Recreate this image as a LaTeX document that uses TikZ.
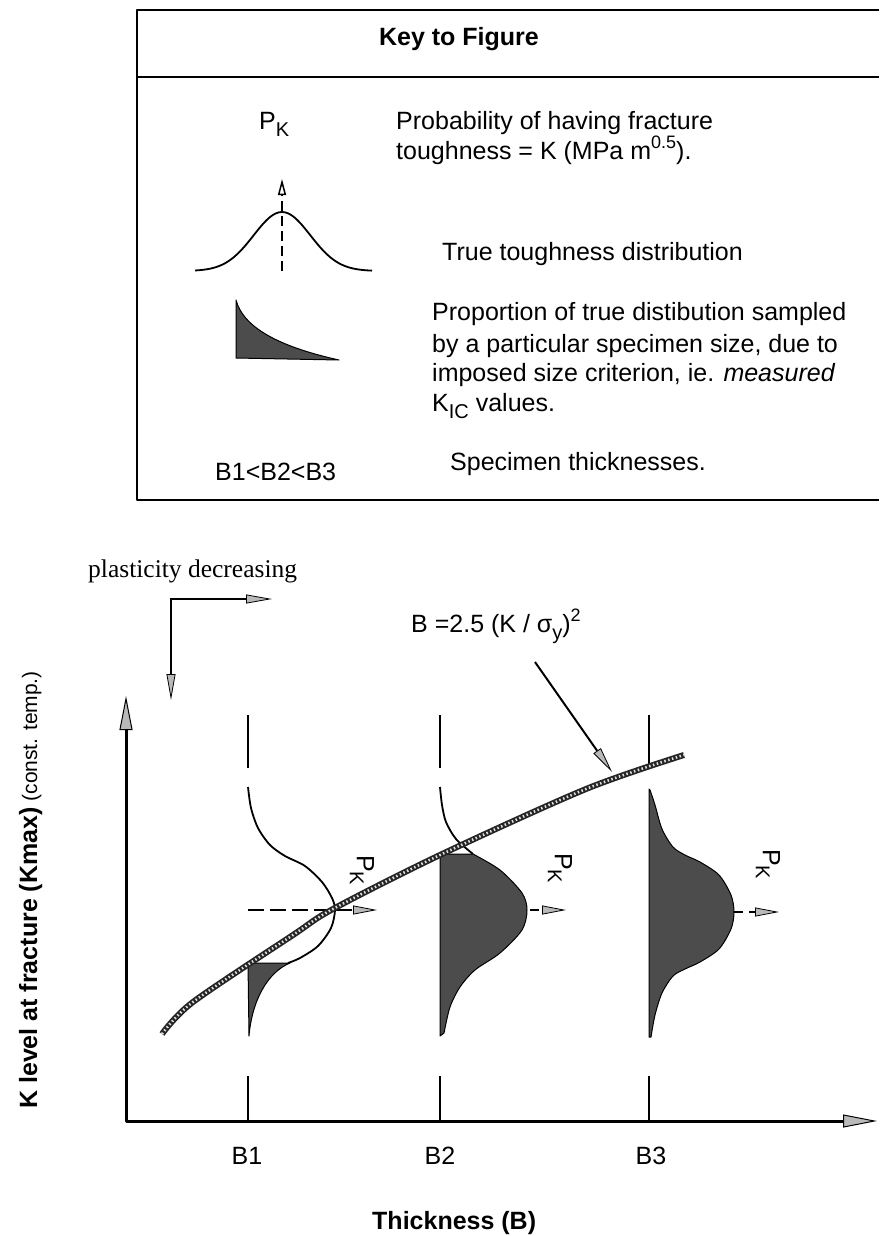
\documentclass[tikz,border=0pt]{standalone}
\usepackage{fontspec}
\setmainfont{Liberation Sans}
\newfontfamily\timesfont{Liberation Serif}
\usetikzlibrary{arrows.meta}
\newcommand{\mysub}[1]{\raisebox{-0.28em}{\fontsize{20}{20}\selectfont #1}}
\newcommand{\mysup}[1]{\raisebox{0.42em}{\fontsize{18}{18}\selectfont #1}}
\begin{document}
\begin{tikzpicture}[x=1pt,y=-1pt,line join=round,
  kt/.style={inner sep=0pt,anchor=base west,font=\fontsize{25}{30}\selectfont},
  ktc/.style={inner sep=0pt,anchor=base,font=\fontsize{25}{30}\selectfont},
  boxline/.style={line width=2.2pt},
  curv/.style={line width=1.8pt},
  dshade/.style={fill=black!70,draw=black,line width=1pt},
  btick/.style={line width=1.3pt},
  garr/.style={line width=2.2pt,-{Triangle[length=26pt,width=9pt,fill=gray!55,line width=0.8pt]}},
  parr/.style={line width=2pt,-{Triangle[length=26pt,width=9pt,fill=gray!55,line width=0.8pt]}},
  band/.style={line width=6pt,black!85},
  bandin/.style={line width=2.6pt,gray!25,dash pattern=on 1.5pt off 2.5pt},
  pklab/.style={rotate=-90,inner sep=0pt,font=\fontsize{25}{30}\selectfont}
]
\useasboundingbox (0,0) rectangle (879,1236);

% ---------- key box ----------
\draw[boxline] (879,10) -- (137,10) -- (137,500) -- (879,500);
\draw[boxline] (137,77) -- (879,77);
\node[ktc,font=\fontsize{25}{30}\selectfont\bfseries] (keytitle) at (459,46) {Key to Figure};

\node[kt] (pk) at (259,129) {P\mysub{K}};
\node[kt] (prob1) at (396,129) {Probability of having fracture};
\node[kt] (prob2) at (396,159) {toughness = K (MPa m\mysup{0.5}).};

\draw[curv] plot[smooth,domain=195:372,samples=60] (\x,{271-59*exp(-((\x-282)/40)^2)});
\coordinate (bellbase) at (282,271);
\coordinate (belltip) at (282,179);
\draw[line width=1.5pt,dash pattern=on 10pt off 5pt,-{Triangle[open,length=16pt,width=8pt]}] (bellbase) -- (belltip);
\node[kt] (true) at (442,260) {True toughness distribution};

\filldraw[dshade] (236,300) .. controls (244,330) and (285,348) .. (339,360) -- (236,358) -- cycle;
\node[kt] (prop1) at (432,320) {Proportion of true distibution sampled};
\node[kt] (prop2) at (432,352) {by a particular specimen size, due to};
\node[kt] (prop3) at (432,381) {imposed size criterion, ie. \textit{measured}};
\node[kt] (prop4) at (432,411) {K\mysub{IC} values.};

\node[kt] (border) at (215,480) {B1<B2<B3};
\node[kt] (spec) at (450,470) {Specimen thicknesses.};

% ---------- plot ----------
\node[inner sep=0pt,anchor=base west,font=\timesfont\fontsize{25.5}{30}\selectfont] (plast) at (88,577) {plasticity decreasing};
\coordinate (corner) at (171,599);
\coordinate (lright) at (272,599);
\coordinate (ldown) at (171,700);
\draw[garr,line cap=rect] (corner) -- (lright);
\draw[garr,line cap=rect] (corner) -- (ldown);

\node[kt] (bform) at (411,632) {B =2.5 (K / σ\mysub{y})\mysup{2}};
\coordinate (pstart) at (535,662);
\coordinate (pend) at (612,772);
\draw[parr] (pstart) -- (pend);

% axes
\coordinate (origin) at (126,1121);
\coordinate (ytip) at (126,696);
\coordinate (xtip) at (877,1121);
\draw[line width=3pt,{Triangle[length=34pt,width=13pt,fill=gray!55,line width=1pt]}-{Triangle[length=34pt,width=13pt,fill=gray!55,line width=1pt]}] (ytip) -- (origin) -- (xtip);

\node[rotate=90,anchor=base west,inner sep=0pt] (ylab) at (37,1109) {{\bfseries\fontsize{25}{30}\selectfont K level at fracture (Kmax)}{\fontsize{21}{24}\selectfont\ (const. temp.)}};

% ticks
\draw[btick] (248,715) -- (248,768);
\draw[btick] (248,1076) -- (248,1121);
\draw[btick] (440,715) -- (440,768);
\draw[btick] (440,1076) -- (440,1121);
\draw[btick] (649,715) -- (649,768);
\draw[btick] (649,1076) -- (649,1121);

% dashed P_K arrows
\draw[line width=2pt,dash pattern=on 16pt off 6pt,-{Triangle[length=24pt,width=9pt,fill=gray!55,line width=0.8pt]}] (248,910) -- (377,910);
\draw[line width=2pt,dash pattern=on 9pt off 6pt,-{Triangle[length=24pt,width=9pt,fill=gray!55,line width=0.8pt]}] (440,910) -- (566,910);
\draw[line width=2pt,dash pattern=on 9pt off 6pt,-{Triangle[length=24pt,width=9pt,fill=gray!55,line width=0.8pt]}] (734,912) -- (779,912);

% B1 distribution
\draw[curv] plot[smooth] coordinates {(248,787) (251,808) (258,828) (270,845) (285,856) (305,866) (322,882) (332,898) (335,910) (331,928) (318,946) (300,958) (288,963)};
\filldraw[dshade] (248,963) -- (290,963) .. controls (268,972) and (252,1000) .. (249,1036) -- cycle;

% B2 distribution
\draw[curv] plot[smooth] coordinates {(440,787) (442,805) (446,822) (456,839) (473,854)};
\filldraw[dshade] (440,854) -- plot[smooth] coordinates {(473,854) (500,870) (522,893) (527,910) (522,930) (500,953) (475,970) (460,987) (450,1007) (444,1033)} -- (440,1036) -- cycle;

% B3 distribution
\filldraw[dshade] (649,789) -- plot[smooth] coordinates {(650,790) (655,805) (662,829) (673,847) (685,855) (700,862) (719,875) (731,895) (734,912) (731,929) (719,949) (700,962) (685,969) (673,976) (662,993) (655,1015) (651,1037)} -- (649,1037) -- cycle;

\node[pklab] (pk1) at (362,870) {P\mysub{K}};
\node[pklab] (pk2) at (560,868) {P\mysub{K}};
\node[pklab] (pk3) at (768,864) {P\mysub{K}};

% size criterion band
\draw[band] plot[smooth] coordinates {(162,1034) (193,1002) (293,935) (333,909) (440,855) (586,789) (684,755)};
\draw[bandin] plot[smooth] coordinates {(162,1034) (193,1002) (293,935) (333,909) (440,855) (586,789) (684,755)};

% labels
\node[ktc] (b1) at (247,1164) {B1};
\node[ktc] (b2) at (440,1164) {B2};
\node[ktc] (b3) at (651,1164) {B3};
\node[kt,font=\fontsize{25}{30}\selectfont\bfseries] (thick) at (372,1229) {Thickness (B)};
\end{tikzpicture}
\end{document}
